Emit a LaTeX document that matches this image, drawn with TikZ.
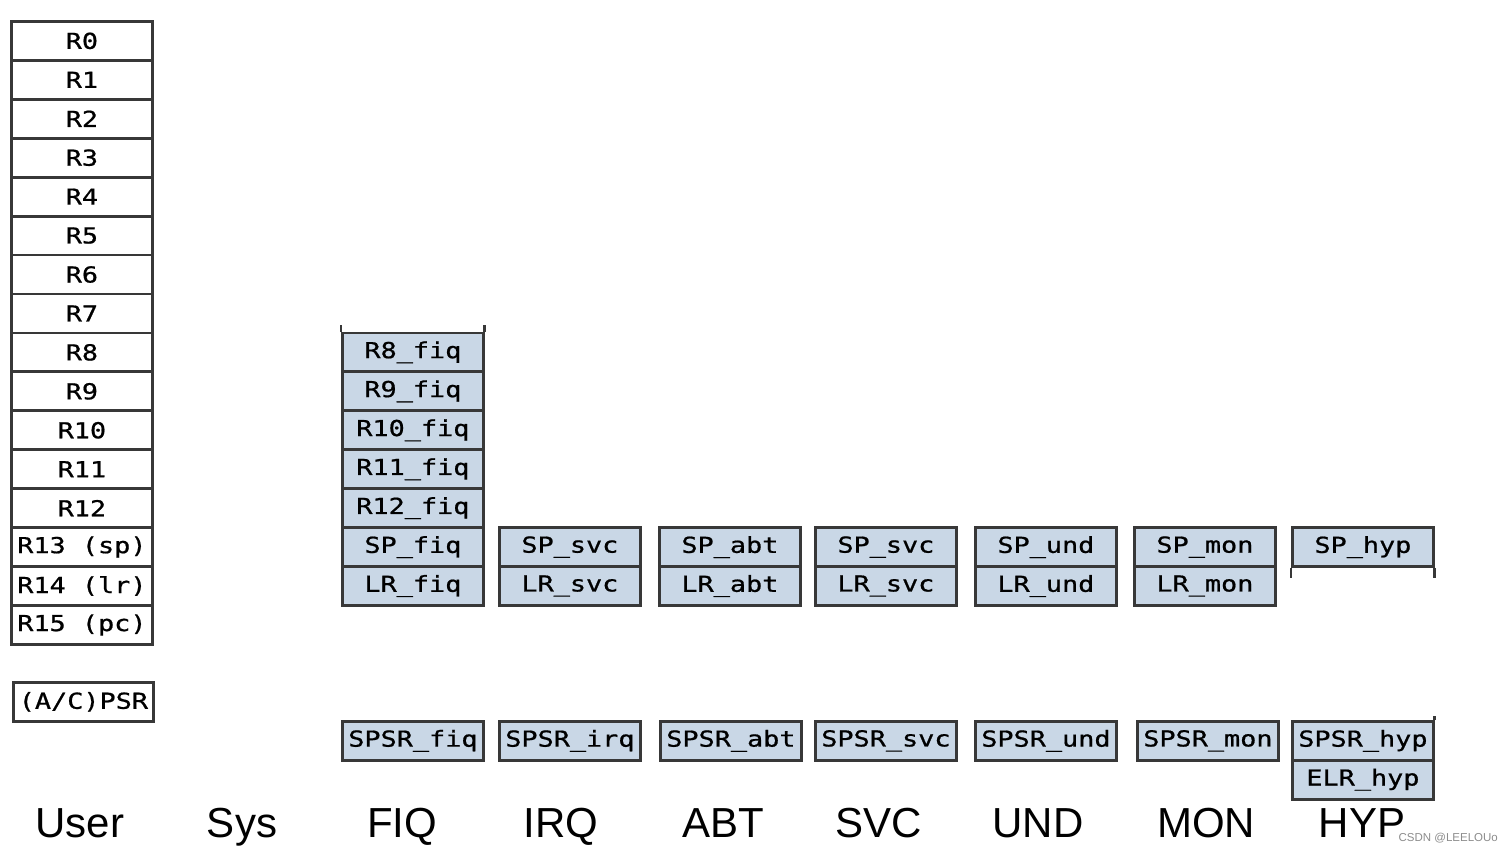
\documentclass[tikz,border=0pt]{standalone}
\usepackage{fontspec}
\newfontfamily\regfont[FakeStretch=1.22,FakeBold=0.8]{DejaVu Sans Mono}
\newfontfamily\labfont{Liberation Sans}
\definecolor{bank}{HTML}{C9D7E6}
\definecolor{edge}{HTML}{383838}
\begin{document}
\begin{tikzpicture}[x=1pt,y=-1pt,
  reg/.style={draw=edge, line width=2.8pt, fill=white, minimum width=141pt,
    minimum height=38.94pt, inner sep=0pt, anchor=north west,
    font=\regfont\fontsize{22}{22}\selectfont},
  bankreg/.style={reg, fill=bank},
  modelabel/.style={font=\labfont\fontsize{42}{42}\selectfont, anchor=base, inner sep=0pt},
  ext/.style={draw=edge, line width=2.8pt}]
\useasboundingbox (0,0) rectangle (1502,851);
% User / System registers
\foreach \i/\t in {0/R0,1/R1,2/R2,3/R3,4/R4,5/R5,6/R6,7/R7,8/R8,9/R9,10/R10,11/R11,12/R12,13/R13 (sp),14/R14 (lr),15/R15 (pc)}
  \node[reg] (u\i) at (10,{20+38.94*\i}) {\t};
\node[reg, minimum width=140pt] (psr) at (12,681) {(A/C)PSR};
% FIQ banked
\foreach \i in {8,...,12}
  \node[bankreg] (f\i) at (341,{20+38.94*\i}) {R\i\_fiq};
\node[bankreg] (fsp) at (341,{20+38.94*13}) {SP\_fiq};
\node[bankreg] (flr) at (341,{20+38.94*14}) {LR\_fiq};
\draw[ext] (f8.north west) -- ++(0,-7);
\draw[ext] (f8.north east) -- ++(0,-7);
% Other modes SP/LR
\foreach \n/\x/\s in {irq/498/svc, abt/658/abt, svc/814/svc, und/974/und, mon/1133/mon}{
  \node[bankreg] (\n sp) at (\x,{20+38.94*13}) {SP\_\s};
  \node[bankreg] (\n lr) at (\x,{20+38.94*14}) {LR\_\s};
}
\node[bankreg] (hypsp) at (1291,{20+38.94*13}) {SP\_hyp};
\draw[ext] (hypsp.south west) -- ++(0,10);
\draw[ext] (hypsp.south east) -- ++(0,10);
% SPSRs
\foreach \n/\x in {fiq/341, irq/498, abt/659, svc/814, und/974, mon/1136, hyp/1291}
  \node[bankreg] (spsr\n) at (\x,720) {SPSR\_\n};
\node[bankreg] (elrhyp) at (1291,758.9) {ELR\_hyp};
\draw[ext] (spsrhyp.north east) -- ++(0,-4);
% Mode labels
\foreach \n/\x/\t in {user/80/User, sys/242/Sys, fiq/402/FIQ, irq/561/IRQ, abt/723/ABT, svc/879/SVC, und/1038/UND, mon/1206/MON, hyp/1362/HYP}
  \node[modelabel] (m\n) at (\x,837) {\t};
\node[font=\labfont\fontsize{11.5}{11.5}\selectfont, text=black!45, anchor=base east, inner sep=0pt] (wm) at (1498,841) {CSDN @LEELOUo};
\end{tikzpicture}
\end{document}
